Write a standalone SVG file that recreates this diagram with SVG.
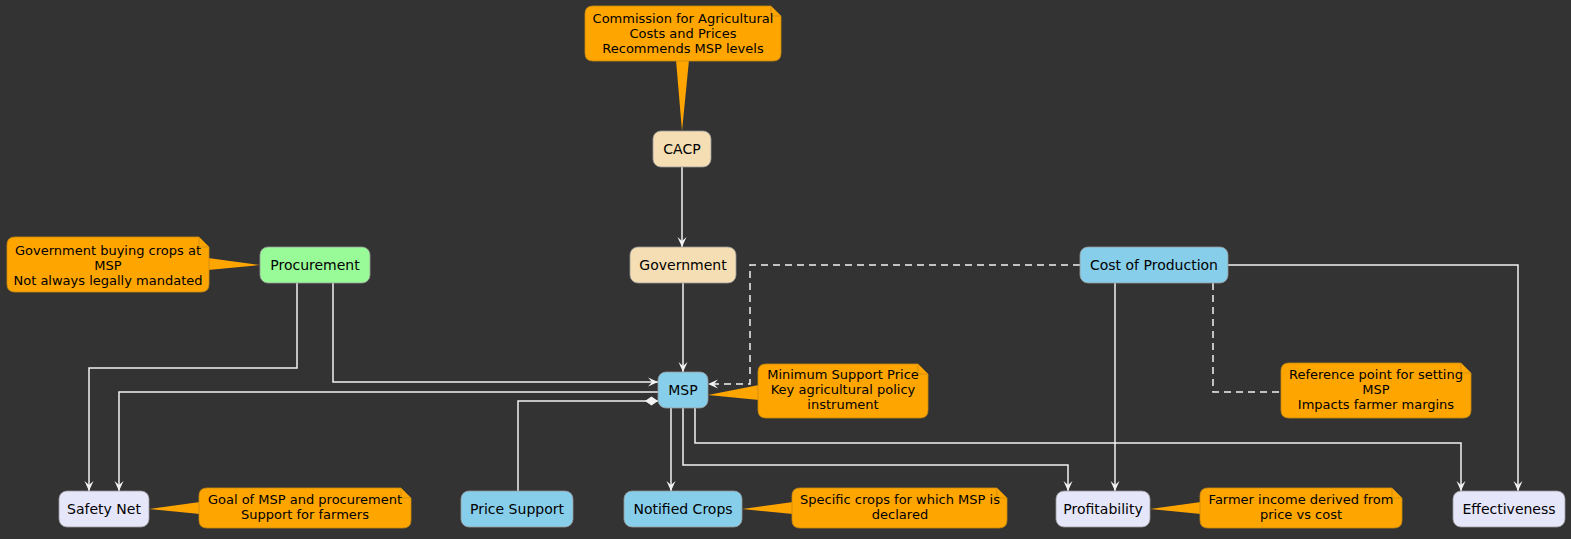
<svg xmlns="http://www.w3.org/2000/svg" width="1571" height="539" viewBox="0 0 1571 539">
<style>
.bg{fill:#333333}
.node rect{stroke:#9a9a9a;stroke-width:0.8}
.wheat{fill:#F5DEB3}
.green{fill:#98FB98}
.blue{fill:#87CEEB}
.lav{fill:#E6E6FA}
.nt{font-family:"DejaVu Sans","Liberation Sans",sans-serif;font-size:14px;fill:#000;text-anchor:middle}
.note path.b{fill:#FFA500;stroke:#C98A10;stroke-width:0.8}
.note path.f{fill:none;stroke:#C98A10;stroke-width:0.8}
.note polygon{fill:#FFA500}
.tt{font-family:"DejaVu Sans","Liberation Sans",sans-serif;font-size:13px;fill:#000;text-anchor:middle}
.e{fill:none;stroke:#F2F2F2;stroke-width:1.5}
.d{stroke-dasharray:7,5}
</style>
<defs>
<marker id="arr" markerUnits="userSpaceOnUse" markerWidth="12" markerHeight="10" refX="10" refY="5" orient="auto">
<path d="M0,0.5 L10,5 L0,9.5 L4,5 Z" fill="#F2F2F2"/>
</marker>
<marker id="dia" markerUnits="userSpaceOnUse" markerWidth="14" markerHeight="10" refX="0" refY="5" orient="auto">
<path d="M0,5 L6.5,0.5 L13,5 L6.5,9.5 Z" fill="#F2F2F2"/>
</marker>
</defs>
<rect class="bg" x="0" y="0" width="1571" height="539"/>

<g id="connectors">
<path class="e" d="M682,167 V247" marker-end="url(#arr)"/>
<path class="e" d="M683,283 V372" marker-end="url(#arr)"/>
<path class="e" d="M333,283 V382 H658" marker-end="url(#arr)"/>
<path class="e" d="M297,283 V368 H89 V491" marker-end="url(#arr)"/>
<path class="e" d="M658,392 H119 V491" marker-end="url(#arr)"/>
<path class="e" d="M658,401 H518 V491" marker-start="url(#dia)"/>
<path class="e" d="M671,408 V491" marker-end="url(#arr)"/>
<path class="e" d="M683,408 V465 H1068 V491" marker-end="url(#arr)"/>
<path class="e" d="M695,408 V443 H1461 V491" marker-end="url(#arr)"/>
<path class="e d" d="M1080,265 H750 V384 H708" marker-end="url(#arr)"/>
<path class="e" d="M1115,283 V491" marker-end="url(#arr)"/>
<path class="e" d="M1228,265 H1518 V491" marker-end="url(#arr)"/>
<path class="e d" d="M1213,283 V392 H1281"/>
</g>

<g id="node-cacp" class="node">
<rect class="wheat" x="653" y="131" width="58" height="36" rx="8"/>
<text class="nt" x="682" y="154">CACP</text>
</g>
<g id="node-government" class="node">
<rect class="wheat" x="630" y="247" width="106" height="36" rx="8"/>
<text class="nt" x="683" y="270">Government</text>
</g>
<g id="node-procurement" class="node">
<rect class="green" x="260" y="247" width="110" height="36" rx="8"/>
<text class="nt" x="315" y="270">Procurement</text>
</g>
<g id="node-msp" class="node">
<rect class="blue" x="658" y="372" width="50" height="36" rx="8"/>
<text class="nt" x="683" y="395">MSP</text>
</g>
<g id="node-cost" class="node">
<rect class="blue" x="1080" y="247" width="148" height="36" rx="8"/>
<text class="nt" x="1154" y="270">Cost of Production</text>
</g>
<g id="node-safetynet" class="node">
<rect class="lav" x="59" y="491" width="90" height="36" rx="8"/>
<text class="nt" x="104" y="514">Safety Net</text>
</g>
<g id="node-pricesupport" class="node">
<rect class="blue" x="461" y="491" width="112" height="36" rx="8"/>
<text class="nt" x="517" y="514">Price Support</text>
</g>
<g id="node-notifiedcrops" class="node">
<rect class="blue" x="624" y="491" width="118" height="36" rx="8"/>
<text class="nt" x="683" y="514">Notified Crops</text>
</g>
<g id="node-profitability" class="node">
<rect class="lav" x="1056" y="491" width="94" height="36" rx="8"/>
<text class="nt" x="1103" y="514">Profitability</text>
</g>
<g id="node-effectiveness" class="node">
<rect class="lav" x="1453" y="491" width="112" height="36" rx="8"/>
<text class="nt" x="1509" y="514">Effectiveness</text>
</g>

<g id="note-cacp" class="note">
<polygon points="676,60 689,60 682,131"/>
<path class="b" d="M593,6 H771 L781,16 V53 Q781,61 773,61 H593 Q585,61 585,53 V14 Q585,6 593,6 Z"/>
<path class="f" d="M771,6 V16 H781"/>
<text class="tt" x="683" y="23">Commission for Agricultural</text>
<text class="tt" x="683" y="38">Costs and Prices</text>
<text class="tt" x="683" y="53">Recommends MSP levels</text>
</g>
<g id="note-procurement" class="note">
<polygon points="208,258 208,270 260,265"/>
<path class="b" d="M15,237 H199 L209,247 V284 Q209,292 201,292 H15 Q7,292 7,284 V245 Q7,237 15,237 Z"/>
<path class="f" d="M199,237 V247 H209"/>
<text class="tt" x="108" y="255">Government buying crops at</text>
<text class="tt" x="108" y="270">MSP</text>
<text class="tt" x="108" y="285">Not always legally mandated</text>
</g>
<g id="note-msp" class="note">
<polygon points="759,385 759,400 708,395"/>
<path class="b" d="M766,364 H918 L928,374 V410 Q928,418 920,418 H766 Q758,418 758,410 V372 Q758,364 766,364 Z"/>
<path class="f" d="M918,364 V374 H928"/>
<text class="tt" x="843" y="379">Minimum Support Price</text>
<text class="tt" x="843" y="394">Key agricultural policy</text>
<text class="tt" x="843" y="409">instrument</text>
</g>
<g id="note-cost" class="note">
<path class="b" d="M1289,363 H1461 L1471,373 V410 Q1471,418 1463,418 H1289 Q1281,418 1281,410 V371 Q1281,363 1289,363 Z"/>
<path class="f" d="M1461,363 V373 H1471"/>
<text class="tt" x="1376" y="379">Reference point for setting</text>
<text class="tt" x="1376" y="394">MSP</text>
<text class="tt" x="1376" y="409">Impacts farmer margins</text>
</g>
<g id="note-safetynet" class="note">
<polygon points="200,502 200,514 149,509"/>
<path class="b" d="M207,488 H401 L411,498 V520 Q411,528 403,528 H207 Q199,528 199,520 V496 Q199,488 207,488 Z"/>
<path class="f" d="M401,488 V498 H411"/>
<text class="tt" x="305" y="504">Goal of MSP and procurement</text>
<text class="tt" x="305" y="519">Support for farmers</text>
</g>
<g id="note-notifiedcrops" class="note">
<polygon points="793,502 793,514 742,509"/>
<path class="b" d="M800,488 H997 L1007,498 V520 Q1007,528 999,528 H800 Q792,528 792,520 V496 Q792,488 800,488 Z"/>
<path class="f" d="M997,488 V498 H1007"/>
<text class="tt" x="900" y="504">Specific crops for which MSP is</text>
<text class="tt" x="900" y="519">declared</text>
</g>
<g id="note-profitability" class="note">
<polygon points="1201,502 1201,514 1150,509"/>
<path class="b" d="M1208,488 H1392 L1402,498 V520 Q1402,528 1394,528 H1208 Q1200,528 1200,520 V496 Q1200,488 1208,488 Z"/>
<path class="f" d="M1392,488 V498 H1402"/>
<text class="tt" x="1301" y="504">Farmer income derived from</text>
<text class="tt" x="1301" y="519">price vs cost</text>
</g>
</svg>
